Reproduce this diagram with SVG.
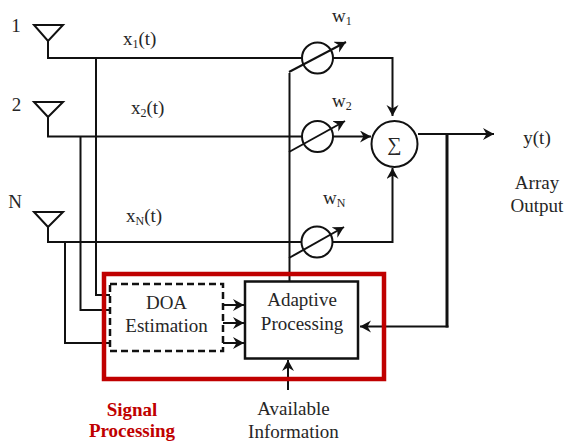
<svg xmlns="http://www.w3.org/2000/svg" width="564" height="441" viewBox="0 0 564 441">
<style>
text{font-family:"Liberation Serif","Times New Roman",serif;fill:#262626;font-size:19px}
.m{text-anchor:middle}
.sub{font-size:12px}
.r{fill:#c00000;font-weight:bold}
.l{fill:none;stroke:#111;stroke-width:2}
.t{fill:none;stroke:#111;stroke-width:3}
.a{fill:none;stroke:#111;stroke-width:2;stroke-linejoin:miter}
.o{fill:#fff;stroke:#111;stroke-width:2}
</style>
<defs>
<marker id="ar" markerUnits="userSpaceOnUse" markerWidth="14" markerHeight="14" refX="11" refY="6" orient="auto"><path d="M0 0L11 6L0 12L3.500 6Z" fill="#111"/></marker>
</defs>
<rect width="564" height="441" fill="#fff"/>
<g id="connectors">
<path class="l" d="M48 41V58H302M96 58V295H110M48 117V136.500H302M80.500 136.500V310H110M48 227V242H302M65 242V343H110"/>
<path class="l" d="M289.500 281V73"/>
<path class="l" d="M333 58H392.500V116" marker-end="url(#ar)"/>
<path class="l" d="M333 136.500H371" marker-end="url(#ar)"/>
<path class="l" d="M333 242H392.500V168" marker-end="url(#ar)"/>
<path class="l" d="M418 134H494" marker-end="url(#ar)"/>
<path class="t" d="M447 134V327.500"/>
<path class="l" d="M448.500 326.500H360" marker-end="url(#ar)"/>
<path class="l" d="M223 305H244" marker-end="url(#ar)"/>
<path class="l" d="M223 323H244" marker-end="url(#ar)"/>
<path class="l" d="M223 343H244" marker-end="url(#ar)"/>
<path class="l" d="M288 390V360" marker-end="url(#ar)"/>
</g>
<g id="antenna-1"><path class="a" d="M34 25H63L48 41Z"/><text x="16" y="32" class="m">1</text></g>
<g id="antenna-2"><path class="a" d="M34 102H63L48 117Z"/><text x="16.500" y="111" class="m">2</text></g>
<g id="antenna-n"><path class="a" d="M34 212H63L48 227Z"/><text x="15" y="208" class="m">N</text></g>
<g id="label-x1"><text x="123" y="45">x<tspan class="sub" dy="3">1</tspan><tspan dy="-3">(t)</tspan></text></g>
<g id="label-x2"><text x="131" y="114">x<tspan class="sub" dy="3">2</tspan><tspan dy="-3">(t)</tspan></text></g>
<g id="label-xn"><text x="126" y="222">x<tspan class="sub" dy="3">N</tspan><tspan dy="-3">(t)</tspan></text></g>
<g id="weight-1"><circle class="l" cx="317.500" cy="58" r="15.500"/><path class="l" d="M289 72L346 42" marker-end="url(#ar)"/><text x="332" y="22">w<tspan class="sub" dy="3">1</tspan></text></g>
<g id="weight-2"><circle class="l" cx="317.500" cy="136.500" r="15.500"/><path class="l" d="M289 152L345 121" marker-end="url(#ar)"/><text x="332" y="107">w<tspan class="sub" dy="3">2</tspan></text></g>
<g id="weight-n"><circle class="l" cx="317" cy="242" r="15.500"/><path class="l" d="M289 258L344 227" marker-end="url(#ar)"/><text x="323" y="204">w<tspan class="sub" dy="3">N</tspan></text></g>
<g id="sum"><circle class="o" cx="394.500" cy="144" r="23"/><text x="394.500" y="151" class="m" style="font-size:20px">∑</text></g>
<g id="output"><text x="537" y="144" class="m">y(t)</text><text x="537" y="189" class="m">Array</text><text x="537" y="212" class="m">Output</text></g>
<g id="signal-processing"><rect x="104" y="274" width="280" height="105" fill="none" stroke="#c00000" stroke-width="4.500"/><text x="132" y="416" class="m r">Signal</text><text x="132" y="437" class="m r">Processing</text></g>
<g id="doa"><rect x="110" y="284" width="113" height="67" fill="#fff" stroke="#111" stroke-width="2.500" stroke-dasharray="7 4"/><text x="166.500" y="309" class="m">DOA</text><text x="166.500" y="332" class="m">Estimation</text></g>
<g id="adaptive"><rect x="245" y="281.500" width="113" height="77" fill="#fff" stroke="#111" stroke-width="2.500"/><text x="302" y="306" class="m">Adaptive</text><text x="302" y="330" class="m">Processing</text></g>
<g id="available"><text x="293.500" y="415" class="m">Available</text><text x="293.500" y="438" class="m">Information</text></g>
</svg>
